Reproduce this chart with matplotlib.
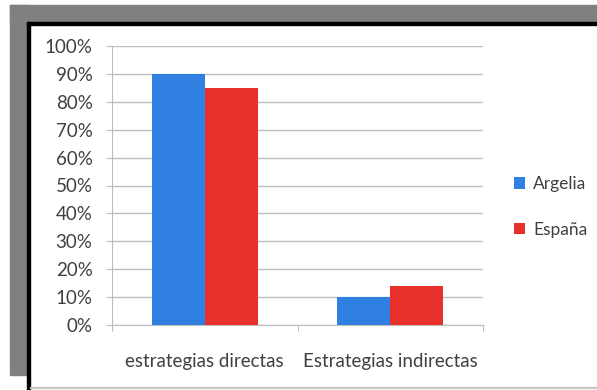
import numpy as np
import matplotlib.pyplot as plt
from matplotlib.patches import Rectangle

categorias = ["estrategias directas", "Estrategias indirectas"]
argelia = [90, 10]
espana = [85, 14]
series = ["Argelia", "España"]
colores = ["#2f80e0", "#e8302b"]

plt.rcParams['font.family'] = ['Lato', 'DejaVu Sans']

fig = plt.figure(figsize=(5.97, 3.90), dpi=100)
W, H = 597, 390

def px(x0, y0, x1, y1, color):
    # rectangle en pixels (origine en haut a gauche)
    fig.patches.append(Rectangle((x0 / W, 1 - y1 / H), (x1 - x0) / W, (y1 - y0) / H,
                                 transform=fig.transFigure, color=color, zorder=0))

# cadre gris et noir
px(10, 5, 597, 22, "#808080")
px(10, 5, 27, 375, "#808080")
px(27, 22, 597, 25, "black")
px(27, 22, 30, 390, "black")
px(30, 387, 597, 388, "#c8c8c8")

ax = fig.add_axes([112 / W, 1 - 325 / H, (483 - 112) / W, (325 - 46) / H])
x = np.arange(len(categorias))
w = 0.2857
ax.bar(x - w / 2, argelia, w, color=colores[0], label=series[0], zorder=3)
ax.bar(x + w / 2, espana, w, color=colores[1], label=series[1], zorder=3)

ax.set_xlim(-0.5, 1.5)
ax.set_ylim(0, 100)
ax.set_yticks(range(0, 101, 10))
ax.set_yticklabels([f"{v}%" for v in range(0, 101, 10)])
ax.yaxis.grid(True, color="#bdbdbd", linewidth=1)
ax.set_axisbelow(True)

ax.set_xticks([-0.5, 0.5, 1.5])
ax.set_xticklabels([])
ax.set_xticks(x, minor=True)
ax.set_xticklabels(categorias, minor=True)
ax.tick_params(axis="x", which="minor", length=0, pad=20, labelsize=13.5, labelcolor="#404040")
ax.tick_params(axis="x", which="major", length=4, color="#bdbdbd", direction="out")
ax.tick_params(axis="y", length=4, color="#bdbdbd", labelsize=13.5, labelcolor="#404040", pad=10)

for s in ["top", "right"]:
    ax.spines[s].set_visible(False)
ax.spines["left"].set_color("#bdbdbd")
ax.spines["bottom"].set_color("#bdbdbd")

fig.legend(loc="center left", bbox_to_anchor=(514 / W, 1 - 207 / H), frameon=False,
           borderpad=0, borderaxespad=0,
           fontsize=12.5, handlelength=0.65, handleheight=0.65, handletextpad=0.45,
           labelspacing=1.7, labelcolor="#404040")

fig.savefig("out.png", dpi=100)
